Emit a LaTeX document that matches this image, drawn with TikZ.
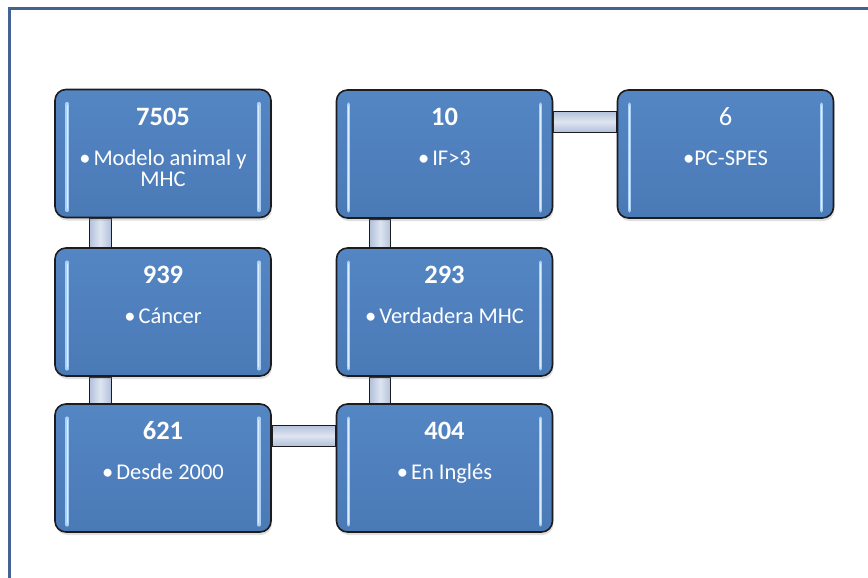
\documentclass[tikz,border=0pt]{standalone}
\usepackage{fontspec}
\setmainfont{Carlito}
\usetikzlibrary{shadows,calc,backgrounds}
\definecolor{boxtop}{RGB}{84,134,196}
\definecolor{boxbot}{RGB}{74,122,182}
\definecolor{boxedge}{RGB}{28,28,30}
\definecolor{hlc}{RGB}{170,208,245}
\definecolor{cside}{RGB}{178,192,218}
\definecolor{cmid}{RGB}{222,229,241}
\definecolor{framec}{RGB}{68,98,146}
\tikzset{
  card/.style={rectangle, rounded corners=11pt, minimum width=216pt, minimum height=128pt,
    draw=boxedge, line width=1.6pt, top color=boxtop, bottom color=boxbot,
    drop shadow={opacity=0.25, shadow xshift=1pt, shadow yshift=-3pt}, inner sep=0pt},
  num/.style={text=white, font=\fontsize{26.5}{30}\selectfont\bfseries, anchor=base, inner sep=0pt},
  numplain/.style={text=white, font=\fontsize{26.5}{30}\selectfont, anchor=base, inner sep=0pt},
  bul/.style={text=white, font=\fontsize{22.5}{20.5}\selectfont, anchor=base, inner sep=0pt, align=center},
  conn/.style={draw=boxedge, line width=1.4pt},
  hlbar/.style={draw=hlc, line width=3.5pt, line cap=round},
  hlcore/.style={draw=white!60!hlc, line width=1pt, line cap=round},
}
\newcommand{\cardbars}[1]{%
  \draw[hlbar] ($(#1.north west)+(13,15)$) -- ($(#1.south west)+(13,-8)$);
  \draw[hlcore] ($(#1.north west)+(13,17)$) -- ($(#1.south west)+(13,-10)$);
  \draw[hlbar] ($(#1.north east)+(-13,15)$) -- ($(#1.south east)+(-13,-8)$);
  \draw[hlcore] ($(#1.north east)+(-13,17)$) -- ($(#1.south east)+(-13,-10)$);
}
\newcommand{\bu}{•\hspace{3pt}}
\begin{document}
\begin{tikzpicture}[x=1pt,y=-1pt]
\useasboundingbox (0,0) rectangle (868,578);
\draw[framec, line width=3pt] (9.5,578) -- (9.5,8.5) -- (868,8.5);

% boxes
\node[card] (a) at (163,153.5) {};
\node[card] (b) at (163,312) {};
\node[card] (c) at (163,468) {};
\node[card] (d) at (444.5,468) {};
\node[card] (e) at (444.5,312) {};
\node[card] (f) at (444.5,154) {};
\node[card] (g) at (725.5,154) {};

\foreach \n in {a,b,c,d,e,f,g} {\cardbars{\n}}

% texts
\node[num] (a1) at ($(a.north)+(0,37)$) {7505};
\node[bul] (a2) at ($(a.north)+(0,97.5)$) {\bu Modelo animal y\\MHC};
\node[num] (b1) at ($(b.north)+(0,36.5)$) {939};
\node[bul] (b2) at ($(b.north)+(0,76)$) {\bu Cáncer};
\node[num] (c1) at ($(c.north)+(0,36.5)$) {621};
\node[bul] (c2) at ($(c.north)+(0,76)$) {\bu Desde 2000};
\node[num] (d1) at ($(d.north)+(0,36.5)$) {404};
\node[bul] (d2) at ($(d.north)+(0,76)$) {\bu En Inglés};
\node[num] (e1) at ($(e.north)+(0,36.5)$) {293};
\node[bul] (e2) at ($(e.north)+(0,76)$) {\bu Verdadera MHC};
\node[num] (f1) at ($(f.north)+(0,36.5)$) {10};
\node[bul] (f2) at ($(f.north)+(0,76.5)$) {\bu IF>3};
\node[numplain] (g1) at ($(g.north)+(0,36.5)$) {6};
\node[bul] (g2) at ($(g.north)+(0,76.5)$) {•PC-SPES};

% connectors
\begin{scope}[on background layer]
\draw[conn, left color=cside, right color=cside, middle color=cmid] ($(a.south west)+(35,0)$) rectangle ($(b.north west)+(57,0)$);
\draw[conn, left color=cside, right color=cside, middle color=cmid] ($(b.south west)+(35,0)$) rectangle ($(c.north west)+(57,0)$);
\draw[conn, top color=cside, bottom color=cside, middle color=cmid] ($(c.north east)+(0,22)$) rectangle ($(d.north west)+(0,43)$);
\draw[conn, left color=cside, right color=cside, middle color=cmid] ($(e.south west)+(34,0)$) rectangle ($(d.north west)+(55,0)$);
\draw[conn, left color=cside, right color=cside, middle color=cmid] ($(f.south west)+(34,0)$) rectangle ($(e.north west)+(55,0)$);
\draw[conn, top color=cside, bottom color=cside, middle color=cmid] ($(f.north east)+(0,22)$) rectangle ($(g.north west)+(0,43)$);
\end{scope}
\end{tikzpicture}
\end{document}
